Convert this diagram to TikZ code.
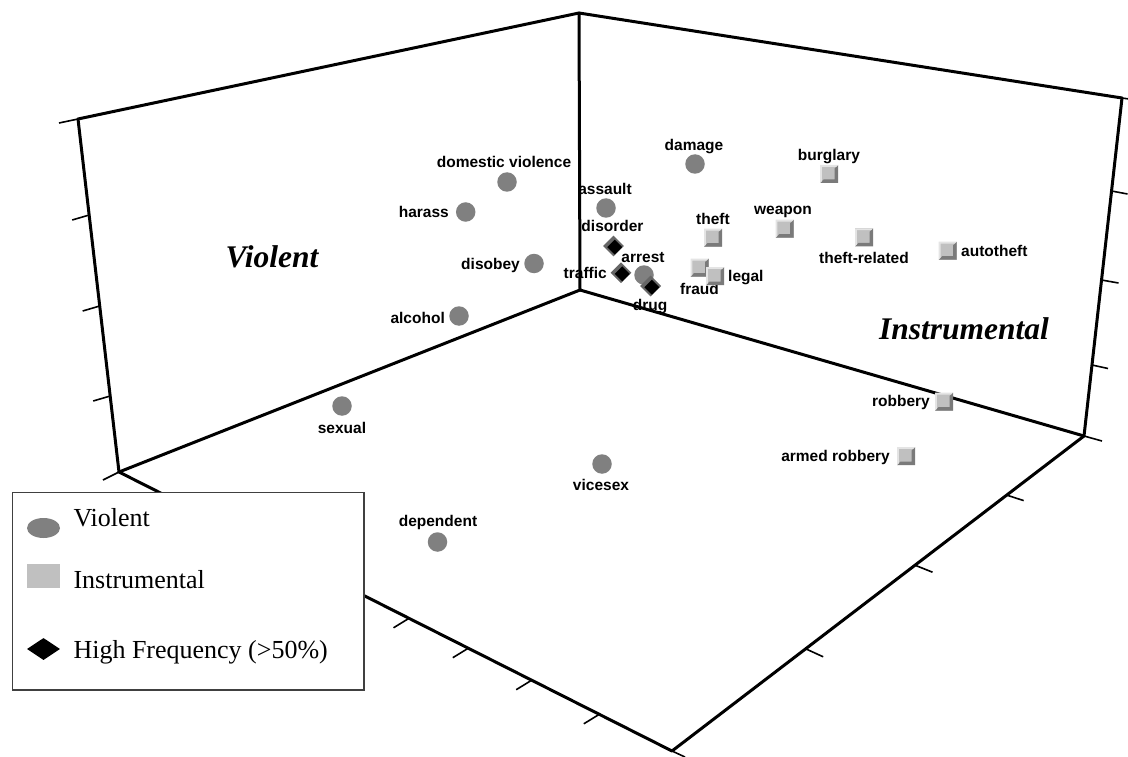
\documentclass[tikz,border=0pt]{standalone}
\usepackage{fontspec}
\setmainfont{Liberation Serif}
\newfontfamily\labfam{Liberation Sans}
\usetikzlibrary{shapes.geometric}
\definecolor{vgray}{HTML}{808080}
\definecolor{igray}{HTML}{C0C0C0}
\definecolor{idark}{HTML}{7A7A7A}
\definecolor{ilight}{HTML}{E4E4E4}
\definecolor{dgray}{HTML}{666666}
\definecolor{boxgray}{HTML}{404040}
\newcommand\lblfont{\labfam\bfseries\fontsize{15.5pt}{18pt}\selectfont}
\newcommand\bigfont{\rmfamily\bfseries\itshape\fontsize{31.5pt}{36pt}\selectfont}
\newcommand\legfont{\rmfamily\fontsize{26pt}{30pt}\selectfont}
\tikzset{
  axisline/.style={line width=3pt, line cap=round, line join=round},
  tickline/.style={line width=1.6pt},
  lbl/.style={font=\lblfont, inner sep=0pt, text height=11.5pt, text depth=0pt},
  vio/.style={circle, fill=vgray, minimum size=19.5pt, inner sep=0pt},
  ins/.style={rectangle, fill=igray, minimum size=18pt, inner sep=0pt,
    path picture={
      \fill[idark] (path picture bounding box.north east) -- (path picture bounding box.south east)
        -- (path picture bounding box.south west) -- ([shift={(3.5pt,3.5pt)}]path picture bounding box.south west)
        -- ([shift={(-3.5pt,3.5pt)}]path picture bounding box.south east)
        -- ([shift={(-3.5pt,-3.5pt)}]path picture bounding box.north east) -- cycle;
      \fill[ilight] (path picture bounding box.north west) -- (path picture bounding box.north east)
        -- ([shift={(-1.8pt,-1.8pt)}]path picture bounding box.north east)
        -- ([shift={(1.8pt,-1.8pt)}]path picture bounding box.north west)
        -- ([shift={(1.8pt,1.8pt)}]path picture bounding box.south west)
        -- (path picture bounding box.south west) -- cycle;
    }},
  hif/.style={diamond, fill=dgray, minimum size=21pt, inner sep=0pt,
    path picture={
      \fill[black] ([shift={(1.2pt,-1.2pt)}]path picture bounding box.center) ++(0pt,7.5pt)
        -- ++(7.5pt,-7.5pt) -- ++(-7.5pt,-7.5pt) -- ++(-7.5pt,7.5pt) -- cycle;
    }},
  biglbl/.style={font=\bigfont, inner sep=0pt},
  legtxt/.style={font=\legfont, inner sep=0pt, anchor=base west}
}
\begin{document}
\begin{tikzpicture}[x=1pt,y=-1pt]
\useasboundingbox (0,0) rectangle (1128,757);

% corners of the 3D frame
\coordinate (A) at (579,13);
\coordinate (TL) at (78,119);
\coordinate (TR) at (1122,98);
\coordinate (O) at (580,290);
\coordinate (L) at (119,472);
\coordinate (R) at (1084,436);
\coordinate (F) at (672,751);

% frame
\draw[axisline] (TL) -- (A) -- (TR);
\draw[axisline] (A) -- (O);
\draw[axisline] (TL) -- (L);
\draw[axisline] (TR) -- (R);
\draw[axisline] (O) -- (L);
\draw[axisline] (O) -- (R);
\draw[axisline] (L) -- (F);
\draw[axisline] (F) -- (R);

% ticks
\draw[tickline] (TL) -- ++(-19,4);
\draw[tickline] (89.2,215) -- ++(-17,5);
\draw[tickline] (99.7,306) -- ++(-17,5);
\draw[tickline] (110.2,396) -- ++(-17,5);
\draw[tickline] (L) -- ++(-16,8);
\draw[tickline] (TR) -- ++(7,1);
\draw[tickline] (1111.5,191) -- ++(16,3);
\draw[tickline] (1101.5,280) -- ++(17,3);
\draw[tickline] (1092,365) -- ++(16,3.5);
\draw[tickline] (R) -- ++(18,5);
\draw[tickline] (409,618.3) -- ++(-15.5,9.5);
\draw[tickline] (468.3,648.2) -- ++(-15.5,9.5);
\draw[tickline] (531.7,680.2) -- ++(-15.5,9.5);
\draw[tickline] (599.3,714.3) -- ++(-15.5,9.5);
\draw[tickline] (F) -- ++(13,6);
\draw[tickline] (805.7,648.8) -- ++(17.5,8);
\draw[tickline] (915,565.2) -- ++(17.5,7);
\draw[tickline] (1006.7,495.1) -- ++(17,5.5);

% wall titles
\node[biglbl] (tviolent) at (272,257) {Violent};
\node[biglbl] (tinstr) at (964,329) {Instrumental};

% violent offences (circles)
\node[vio] (domestic) at (507,182) {};
\node[lbl] (domesticl) at (504,162) {domestic violence};
\node[vio] (harass) at (465.7,212) {};
\node[lbl, anchor=east] (harassl) at (449,212) {harass};
\node[vio] (disobey) at (534,263.5) {};
\node[lbl, anchor=east] (disobeyl) at (520,264) {disobey};
\node[vio] (alcohol) at (459,316) {};
\node[lbl, anchor=east] (alcoholl) at (445,318) {alcohol};
\node[vio] (sexual) at (342,406) {};
\node[lbl] (sexuall) at (342,428) {sexual};
\node[vio] (vicesex) at (602,464) {};
\node[lbl] (vicesexl) at (601,485) {vicesex};
\node[vio] (dependent) at (437.5,542) {};
\node[lbl] (dependentl) at (438,521) {dependent};
\node[vio] (damage) at (695,164) {};
\node[lbl] (damagel) at (694,145) {damage};
\node[vio] (assault) at (606,208) {};
\node[lbl] (assaultl) at (605,189) {assault};
\node[vio] (arrest) at (644,275) {};
\node[lbl] (arrestl) at (643,257) {arrest};

% high frequency (diamonds)
\node[hif] (disorder) at (613.5,246) {};
\node[lbl] (disorderl) at (612.5,226) {disorder};
\node[hif] (traffic) at (621,272.7) {};
\node[lbl, anchor=east] (trafficl) at (607,273) {traffic};
\node[hif] (drug) at (650.6,286) {};
\node[lbl] (drugl) at (650,305) {drug};

% instrumental (squares)
\node[ins] (burglary) at (829,174) {};
\node[lbl] (burglaryl) at (829,155) {burglary};
\node[ins] (weapon) at (784.6,228.7) {};
\node[lbl] (weaponl) at (783,209) {weapon};
\node[ins] (theft) at (713,237.7) {};
\node[lbl] (theftl) at (713,219) {theft};
\node[ins] (theftrel) at (864,237.3) {};
\node[lbl] (theftrell) at (864,257.5) {theft-related};
\node[ins] (autotheft) at (947.7,250.7) {};
\node[lbl, anchor=west] (autotheftl) at (961,251) {autotheft};
\node[ins] (fraud) at (699.5,267.7) {};
\node[lbl] (fraudl) at (699.5,288.5) {fraud};
\node[ins] (legal) at (715,276) {};
\node[lbl, anchor=west] (legall) at (728,276) {legal};
\node[ins] (robbery) at (944,401.7) {};
\node[lbl, anchor=east] (robberyl) at (930,401) {robbery};
\node[ins] (armed) at (906,456) {};
\node[lbl, anchor=east] (armedl) at (890,456) {armed robbery};

% legend
\node[draw=boxgray, line width=1.5pt, fill=white, anchor=north west,
      minimum width=351.6pt, minimum height=197.6pt, inner sep=0pt] (legend) at (11.7,491.7) {};
\node[ellipse, fill=vgray, minimum width=33pt, minimum height=20pt, inner sep=0pt] (legv) at (43.5,528) {};
\node[legtxt] (legvt) at (73.3,526.7) {Violent};
\node[rectangle, fill=igray, minimum width=33pt, minimum height=24pt, inner sep=0pt] (legi) at (43.5,576) {};
\node[legtxt] (legit) at (73.3,588.3) {Instrumental};
\node[diamond, fill=black, minimum width=33pt, minimum height=22pt, inner sep=0pt] (legh) at (43.5,649) {};
\node[legtxt] (leght) at (73.3,658.3) {High Frequency (>50\%)};
\end{tikzpicture}
\end{document}
